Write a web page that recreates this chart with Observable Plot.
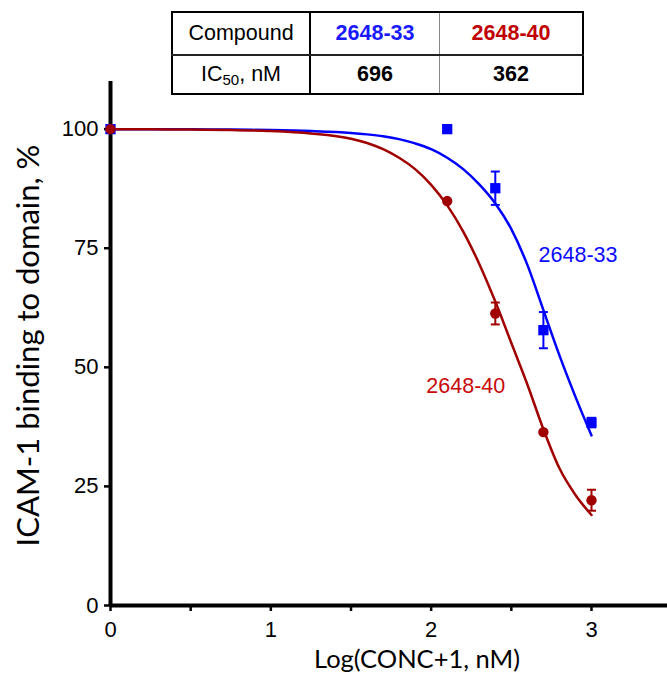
<!DOCTYPE html>
<html>
<head>
<meta charset="utf-8">
<script src="https://cdn.jsdelivr.net/npm/d3@7"></script>
<script src="https://cdn.jsdelivr.net/npm/@observablehq/plot@0.6"></script>
<style>
  html, body { margin: 0; padding: 0; background: white; }
  #wrap { position: relative; width: 667px; height: 684px; overflow: hidden; }
  #tbl { position: absolute; left: 171px; top: 11px; border-collapse: collapse;
         font-family: "Liberation Sans", Arial, sans-serif; font-size: 21.5px; background: white; }
  #tbl td { text-align: center; padding: 0; border: 1px solid #888; }
  #tbl tr:first-child td { height: 41px; border-top: 2px solid #000; border-bottom: 2px solid #222; }
  #tbl tr:last-child td { height: 37px; border-bottom: 2px solid #000; }
  #tbl td:first-child { width: 136px; border-left: 2px solid #000; border-right: 2px solid #000; }
  #tbl td:nth-child(2) { width: 128px; }
  #tbl td:last-child { width: 142px; border-right: 2px solid #000; }
  #tbl sub { font-size: 0.7em; vertical-align: -0.25em; line-height: 0; }
</style>
</head>
<body>
<div id="wrap">
  <div id="chart"></div>
  <table id="tbl"></table>
</div>
<script>
// ---- data ----
const compounds = ["2648-33", "2648-40"];
const ic50 = [696, 362];
const doses = [0, 2.1, 2.4, 2.7, 3];
const mean33 = [100, 100, 87.6, 57.8, 38.4];
const err33  = [0, 0, 3.5, 3.8, 1.0];
const mean40 = [100, 84.9, 61.3, 36.4, 22.1];
const err40  = [0, 0, 2.3, 0.3, 2.2];
// fitted curves
const fitX   = [0, 0.25, 0.5, 0.75, 1.0, 1.25, 1.5, 1.6, 1.7, 1.8, 1.9, 2.0, 2.1, 2.2, 2.3, 2.4, 2.5, 2.6, 2.7, 2.8, 2.9, 3.0];
const fit33  = [100, 100, 100, 99.9, 99.8, 99.6, 99.2, 98.9, 98.5, 97.9, 97.0, 95.8, 94.0, 91.6, 88.4, 84.4, 79.0, 71.5, 62.0, 52.5, 43.8, 35.7];
const fit40  = [100, 100, 99.9, 99.8, 99.6, 99.1, 98.0, 97.1, 95.8, 94.0, 91.6, 88.3, 84.0, 78.5, 71.7, 63.8, 55.1, 46.4, 37.0, 28.8, 23.2, 19.0];
const xTicks = [0, 0.5, 1, 1.5, 2, 2.5, 3];
const yTicks = [0, 25, 50, 75, 100];
const xTitle = "Log(CONC+1, nM)";
const yTitle = "ICAM-1 binding to domain, %";

const colors = {"2648-33": "#0000ff", "2648-40": "#a00000"};
const labelColors = {"2648-33": "#0a0aff", "2648-40": "#c80a0a"};

const points = [];
doses.forEach((x, i) => {
  points.push({compound: compounds[0], x, y: mean33[i], e: err33[i]});
  points.push({compound: compounds[1], x, y: mean40[i], e: err40[i]});
});
const fits = [];
fitX.forEach((x, i) => fits.push({compound: compounds[0], x, y: fit33[i]}));
fitX.forEach((x, i) => fits.push({compound: compounds[1], x, y: fit40[i]}));
const errs = points.filter(d => d.e > 0);

const cap = { draw(ctx, size) { const w = Math.sqrt(size / Math.PI); ctx.moveTo(-w, 0); ctx.lineTo(w, 0); } };

const chart = Plot.plot({
  width: 667, height: 684,
  marginLeft: 110, marginRight: 0, marginTop: 81, marginBottom: 79,
  x: {domain: [0, 3.474]},
  y: {domain: [0, 110]},
  style: {fontFamily: "'Liberation Sans', Arial, sans-serif", background: "white", color: "black"},
  marks: [
    Plot.axisY({ticks: yTicks, tickSize: 6, tickPadding: 6, fontSize: 22, strokeWidth: 2.5, label: null}),
    Plot.axisX({ticks: xTicks, tickSize: 6, tickPadding: 10, fontSize: 22, strokeWidth: 2.5, label: null,
                tickFormat: d => Number.isInteger(d) ? String(d) : ""}),
    Plot.ruleY([0], {stroke: "black", strokeWidth: 4}),
    Plot.ruleX([0], {y1: 0, y2: 110, stroke: "black", strokeWidth: 4}),
    Plot.line(fits, {x: "x", y: "y", z: "compound", stroke: d => colors[d.compound], strokeWidth: 2.5, curve: "monotone-x"}),
    Plot.ruleX(errs, {x: "x", y1: d => d.y - d.e, y2: d => d.y + d.e, stroke: d => colors[d.compound], strokeWidth: 2}),
    Plot.dot(errs, {x: "x", y: d => d.y + d.e, symbol: cap, r: 4.5, stroke: d => colors[d.compound], strokeWidth: 2}),
    Plot.dot(errs, {x: "x", y: d => d.y - d.e, symbol: cap, r: 4.5, stroke: d => colors[d.compound], strokeWidth: 2}),
    Plot.dot(points.filter(d => d.compound === compounds[0]), {x: "x", y: "y", symbol: "square", r: 5.8, fill: colors[compounds[0]], stroke: "none"}),
    Plot.dot(points.filter(d => d.compound === compounds[1]), {x: "x", y: "y", symbol: "circle", r: 5.2, fill: colors[compounds[1]], stroke: "none"}),
    Plot.text([compounds[0]], {x: () => 2.67, y: () => 73.5, text: d => d, textAnchor: "start", lineAnchor: "middle", fontSize: 21.5, fill: labelColors[compounds[0]]}),
    Plot.text([compounds[1]], {x: () => 1.97, y: () => 46.0, text: d => d, textAnchor: "start", lineAnchor: "middle", fontSize: 21.5, fill: labelColors[compounds[1]]}),
    Plot.text([yTitle], {frameAnchor: "left", text: d => d, rotate: -90, dx: -72, dy: 2, textAnchor: "middle", lineAnchor: "bottom", fontSize: 31, fontFamily: "Lato", fill: "black"}),
    Plot.text([xTitle], {frameAnchor: "bottom", text: d => d, dx: 28, dy: 62, textAnchor: "middle", lineAnchor: "bottom", fontSize: 25.5, fontFamily: "Lato", fill: "black"})
  ]
});
document.getElementById("chart").appendChild(chart);

// ---- table built from the arrays ----
const tbl = document.getElementById("tbl");
const r1 = tbl.insertRow();
const r2 = tbl.insertRow();
const h1 = r1.insertCell(); h1.textContent = "Compound";
const h2 = r2.insertCell(); h2.innerHTML = "IC<sub>50</sub>, nM";
compounds.forEach((c, i) => {
  const a = r1.insertCell(); a.textContent = c; a.style.fontWeight = "bold";
  a.style.color = i === 0 ? "#1a1aff" : "#c00000";
  const b = r2.insertCell(); b.textContent = String(ic50[i]); b.style.fontWeight = "bold";
});
</script>
</body>
</html>
